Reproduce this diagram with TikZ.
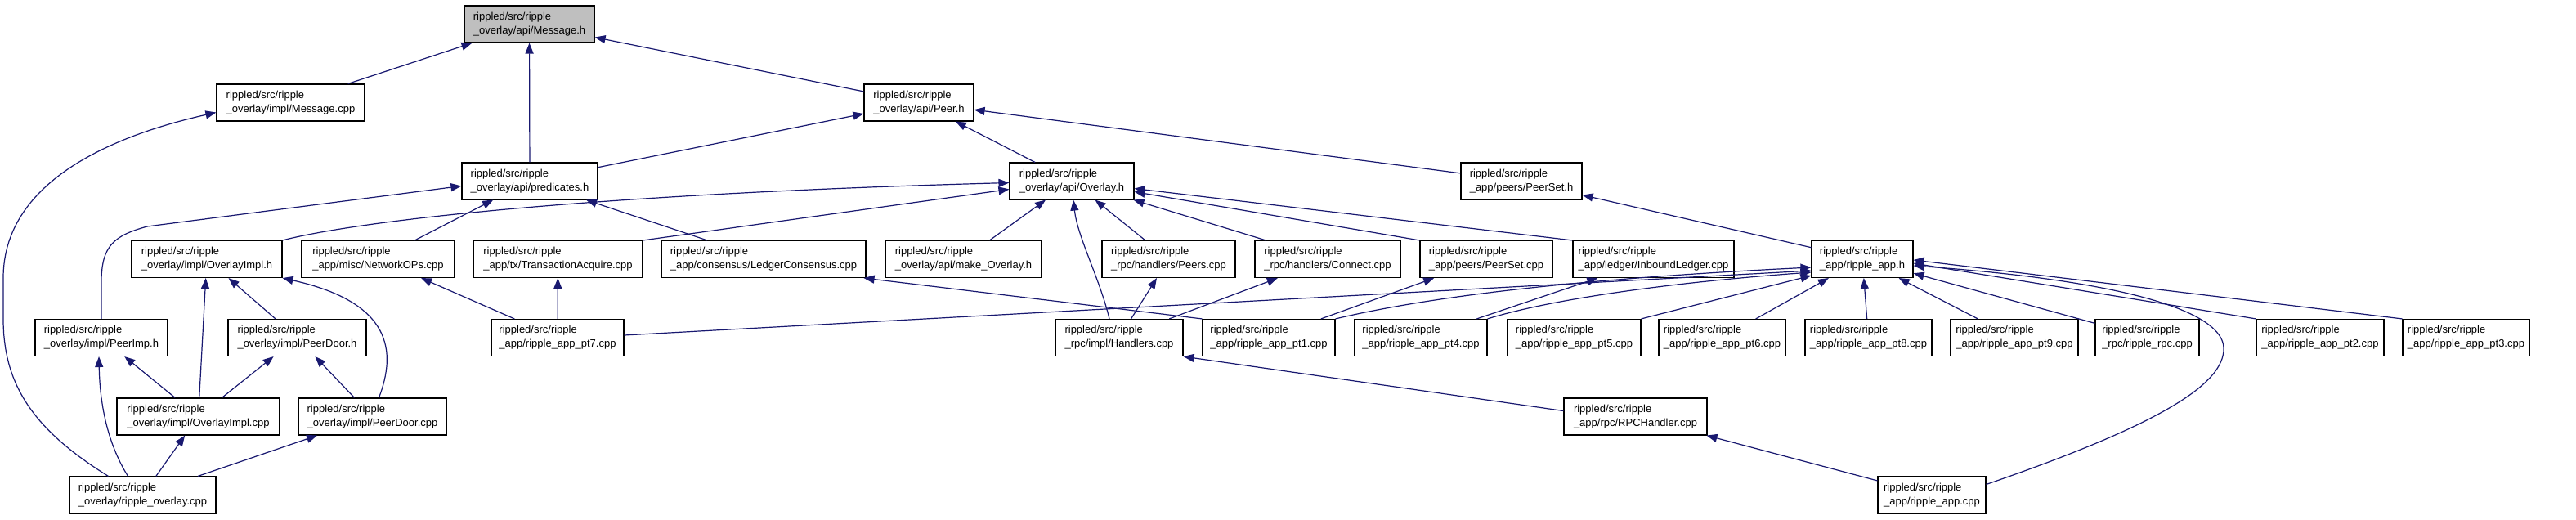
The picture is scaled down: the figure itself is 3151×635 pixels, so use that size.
\documentclass[tikz,border=0pt]{standalone}
\usepackage{fontspec}
\setmainfont{Liberation Sans}
\usepackage{tikz}
\usetikzlibrary{arrows.meta}
\definecolor{edgeBlue}{RGB}{25, 25, 112}
\definecolor{rootGray}{RGB}{191, 191, 191}

\begin{document}
\begin{tikzpicture}[
    x=1pt, y=-1pt,
    filebox/.style={rectangle, draw=black, line width=1.1pt, fill=white, minimum height=45pt, inner xsep=4pt, align=left, font=\fontsize{13}{17}\selectfont},
    rootbox/.style={filebox, fill=rootGray},
    incl/.style={-{Triangle[length=13pt, width=10pt]}, line width=1.2pt, edgeBlue}
]
    \useasboundingbox (0,0) rectangle (3151,635);

    % Nodes
    \node[rootbox, minimum width=159] (msgh) at (647.5,29.5) {rippled/src/ripple\\\_overlay/api/Message.h};

    \node[filebox, minimum width=181] (msgcpp) at (355.5,125.5) {rippled/src/ripple\\\_overlay/impl/Message.cpp};
    \node[filebox, minimum width=134] (peerh) at (1124,125.5) {rippled/src/ripple\\\_overlay/api/Peer.h};

    \node[filebox, minimum width=166] (pred) at (648,221.5) {rippled/src/ripple\\\_overlay/api/predicates.h};
    \node[filebox, minimum width=152] (overlayh) at (1311,221.5) {rippled/src/ripple\\\_overlay/api/Overlay.h};
    \node[filebox, minimum width=148] (peerseth) at (1861,221.5) {rippled/src/ripple\\\_app/peers/PeerSet.h};

    \node[filebox, minimum width=184] (ovimplh) at (253,317) {rippled/src/ripple\\\_overlay/impl/OverlayImpl.h};
    \node[filebox, minimum width=187] (netops) at (462.5,317) {rippled/src/ripple\\\_app/misc/NetworkOPs.cpp};
    \node[filebox, minimum width=207] (txacq) at (682.5,317) {rippled/src/ripple\\\_app/tx/TransactionAcquire.cpp};
    \node[filebox, minimum width=250] (ledgcons) at (934,317) {rippled/src/ripple\\\_app/consensus/LedgerConsensus.cpp};
    \node[filebox, minimum width=191] (makeov) at (1178.5,317) {rippled/src/ripple\\\_overlay/api/make\_Overlay.h};
    \node[filebox, minimum width=163] (peers) at (1429.5,317) {rippled/src/ripple\\\_rpc/handlers/Peers.cpp};
    \node[filebox, minimum width=178] (connect) at (1624,317) {rippled/src/ripple\\\_rpc/handlers/Connect.cpp};
    \node[filebox, minimum width=162] (peersetcpp) at (1818,317) {rippled/src/ripple\\\_app/peers/PeerSet.cpp};
    \node[filebox, minimum width=197] (inbound) at (2022.5,317) {rippled/src/ripple\\\_app/ledger/InboundLedger.cpp};
    \node[filebox, minimum width=124] (apph) at (2278,317) {rippled/src/ripple\\\_app/ripple\_app.h};

    \node[filebox, minimum width=162] (peerimp) at (124,413) {rippled/src/ripple\\\_overlay/impl/PeerImp.h};
    \node[filebox, minimum width=169] (peerdoorh) at (363.5,413) {rippled/src/ripple\\\_overlay/impl/PeerDoor.h};
    \node[filebox, minimum width=162] (pt7) at (682,413) {rippled/src/ripple\\\_app/ripple\_app\_pt7.cpp};
    \node[filebox, minimum width=156] (handlers) at (1369,413) {rippled/src/ripple\\\_rpc/impl/Handlers.cpp};
    \node[filebox, minimum width=162] (pt1) at (1552,413) {rippled/src/ripple\\\_app/ripple\_app\_pt1.cpp};
    \node[filebox, minimum width=162] (pt4) at (1738,413) {rippled/src/ripple\\\_app/ripple\_app\_pt4.cpp};
    \node[filebox, minimum width=163] (pt5) at (1925.5,413) {rippled/src/ripple\\\_app/ripple\_app\_pt5.cpp};
    \node[filebox, minimum width=155] (pt6) at (2106.5,413) {rippled/src/ripple\\\_app/ripple\_app\_pt6.cpp};
    \node[filebox, minimum width=155] (pt8) at (2285.5,413) {rippled/src/ripple\\\_app/ripple\_app\_pt8.cpp};
    \node[filebox, minimum width=156] (pt9) at (2464,413) {rippled/src/ripple\\\_app/ripple\_app\_pt9.cpp};
    \node[filebox, minimum width=127] (rpc) at (2626.5,413) {rippled/src/ripple\\\_rpc/ripple\_rpc.cpp};
    \node[filebox, minimum width=156] (pt2) at (2838,413) {rippled/src/ripple\\\_app/ripple\_app\_pt2.cpp};
    \node[filebox, minimum width=155] (pt3) at (3016.5,413) {rippled/src/ripple\\\_app/ripple\_app\_pt3.cpp};

    \node[filebox, minimum width=199] (ovimplcpp) at (242.5,509.5) {rippled/src/ripple\\\_overlay/impl/OverlayImpl.cpp};
    \node[filebox, minimum width=181] (peerdoorcpp) at (455.5,509.5) {rippled/src/ripple\\\_overlay/impl/PeerDoor.cpp};
    \node[filebox, minimum width=175] (rpchandler) at (2000.5,509.5) {rippled/src/ripple\\\_app/rpc/RPCHandler.cpp};

    \node[filebox, minimum width=179] (ovcpp) at (174.5,605.5) {rippled/src/ripple\\\_overlay/ripple\_overlay.cpp};
    \node[filebox, minimum width=132] (appcpp) at (2363,605.5) {rippled/src/ripple\\\_app/ripple\_app.cpp};

    % Links
    \draw[incl] (msgcpp) -- (msgh);
    \draw[incl] (pred) -- (msgh);
    \draw[incl] (peerh) -- (msgh);
    \draw[incl] ([xshift=-42pt]ovcpp.north) .. controls (40,525) and (4,470) .. (4,390) -- (4,340) .. controls (4,230) and (120,170) .. ([yshift=-12pt]msgcpp.west);

    \draw[incl] (pred) -- (peerh);
    \draw[incl] (overlayh) -- (peerh);
    \draw[incl] (peerseth) -- (peerh);

    \draw[incl] (peerimp.north) -- (124,345) .. controls (124,300) and (140,288) .. (180,277) -- ([yshift=-6pt]pred.west);
    \draw[incl] (netops) -- (pred);
    \draw[incl] (ledgcons) -- (pred);

    \draw[incl] (ovimplh.north east) .. controls (430,272) and (700,238) .. ([yshift=-2pt]overlayh.west);
    \draw[incl] (txacq.north east) -- ([yshift=-10pt]overlayh.west);
    \draw[incl] (makeov) -- (overlayh);
    \draw[incl] ([xshift=-12pt]handlers.north) .. controls (1345,340) and (1318,290) .. ([xshift=2pt]overlayh.south);
    \draw[incl] (peers) -- (overlayh);
    \draw[incl] (connect) -- (overlayh);
    \draw[incl] (peersetcpp.north west) -- (overlayh);
    \draw[incl] (inbound.north west) -- (overlayh);

    \draw[incl] (apph) -- (peerseth);

    \draw[incl] (pt7) -- (netops);
    \draw[incl] (pt7) -- (txacq);
    \draw[incl] (pt1.north west) -- ([xshift=-3pt]ledgcons.south east);
    \draw[incl] (handlers) -- (peers);
    \draw[incl] (handlers) -- (connect);
    \draw[incl] (pt1) -- (peersetcpp);
    \draw[incl] (pt4) -- (inbound);

    \draw[incl] ([yshift=3pt]pt7.east) -- ([yshift=-14pt]apph.west);
    \draw[incl] (pt1.north east) .. controls (1760,360) and (1950,340) .. ([yshift=-10pt]apph.west);
    \draw[incl] (pt4.north east) .. controls (1900,365) and (2050,345) .. ([yshift=-16pt]apph.west);
    \draw[incl] (pt5.north east) -- ([yshift=-20pt]apph.west);
    \draw[incl] (pt6) -- (apph);
    \draw[incl] (pt8) -- (apph);
    \draw[incl] (pt9) -- (apph);
    \draw[incl] (rpc) -- (apph);
    \draw[incl] (pt2.north west) -- ([yshift=-5pt]apph.east);
    \draw[incl] (pt3.north west) -- ([yshift=-1pt]apph.east);

    \draw[incl] (ovimplcpp) -- (ovimplh);
    \draw[incl] (peerdoorh) -- (ovimplh);
    \draw[incl] ([xshift=8pt]peerdoorcpp.north) .. controls (485,430) and (480,370) .. (ovimplh.south east);
    \draw[incl] (ovimplcpp) -- (peerimp);
    \draw[incl] (ovimplcpp) -- (peerdoorh);
    \draw[incl] (peerdoorcpp) -- (peerdoorh);

    \draw[incl] (ovcpp) -- (ovimplcpp);
    \draw[incl] (ovcpp) -- (peerdoorcpp);
    \draw[incl] ([xshift=-18pt]ovcpp.north) .. controls (130,540) and (122,490) .. ([xshift=-3pt]peerimp.south);

    \draw[incl] ([yshift=7pt]rpchandler.west) -- (handlers.south east);
    \draw[incl] (appcpp) -- (rpchandler);
    \draw[incl] ([yshift=13pt]appcpp.east) .. controls (2640,520) and (2722,470) .. (2720,425) .. controls (2718,385) and (2620,345) .. ([yshift=-8pt]apph.east);
\end{tikzpicture}
\end{document}
